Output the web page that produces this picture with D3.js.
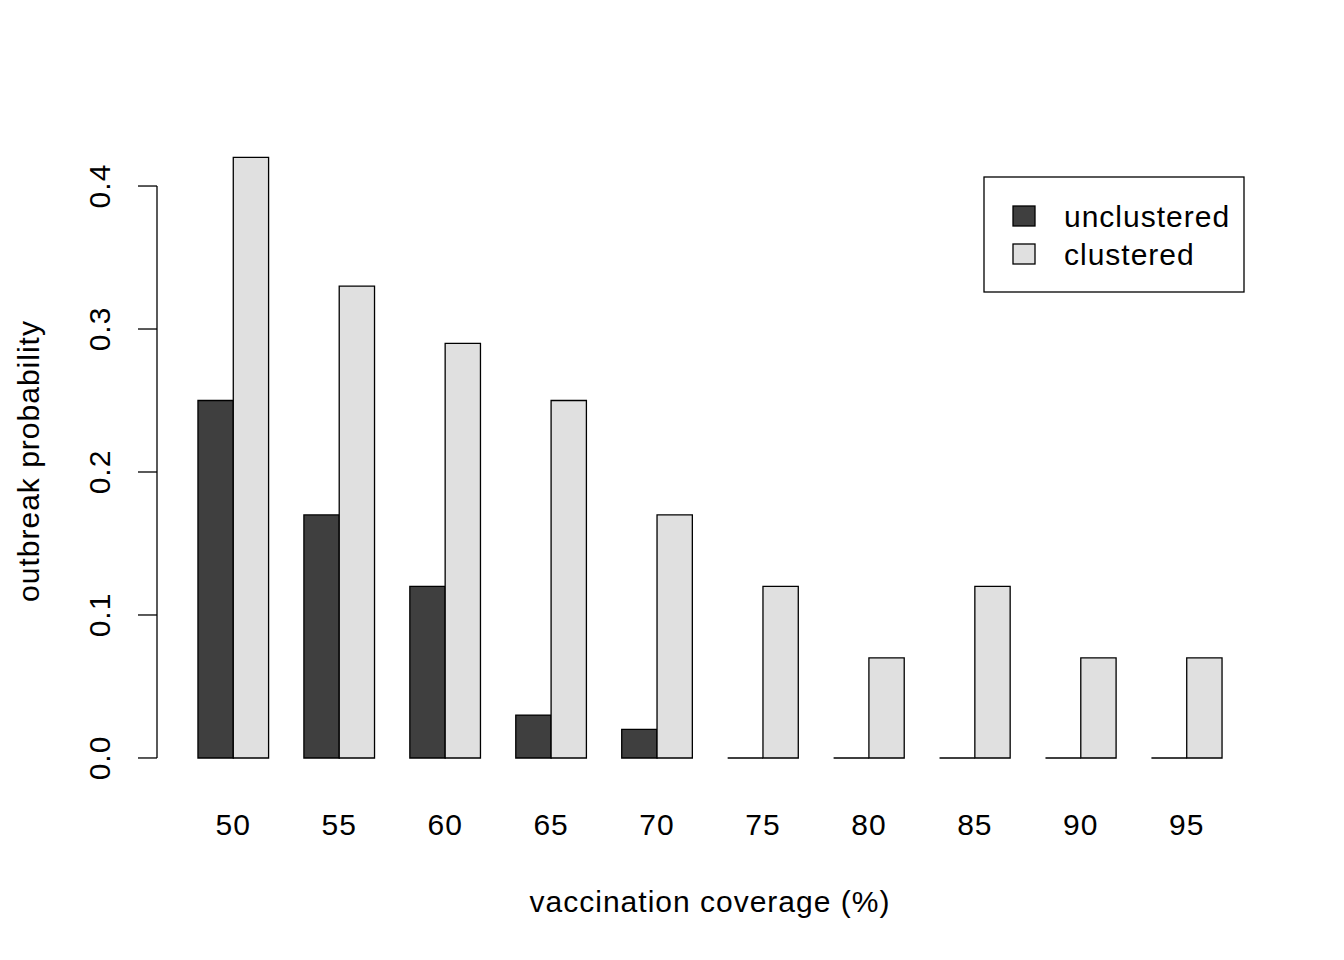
<!DOCTYPE html>
<html><head><meta charset="utf-8">
<script src="https://cdn.jsdelivr.net/npm/d3@7"></script>
<style>body{margin:0;background:#fff}svg{display:block}text{font-family:"Liberation Sans",Arial,sans-serif;fill:#000;letter-spacing:1px}</style>
</head><body><svg id="c" width="1344" height="960"></svg>
<script>
const categories = ["50","55","60","65","70","75","80","85","90","95"];
const seriesNames = ["unclustered","clustered"];
const unclustered = [0.25,0.17,0.12,0.03,0.02,0,0,0,0,0];
const clustered = [0.42,0.33,0.29,0.25,0.17,0.12,0.07,0.12,0.07,0.07];
const yTicks = [0,0.1,0.2,0.3,0.4];
const colors = ["#3f3f3f","#e0e0e0"];

const svg = d3.select("#c");
const fs = 30;
const x = d3.scaleLinear().domain([-0.16,31.16]).range([157,1263]);
const y = d3.scaleLinear().domain([-0.0168,0.4368]).range([782,133.4]);

const series=[unclustered,clustered];
categories.forEach((c,i)=>{
  series.forEach((s,j)=>{
    const l = 1+i*3+j;
    const x0=x(l), x1=x(l+1), yt=y(s[i]), yb=y(0);
    svg.append("path").attr("d",`M${x0},${yb}L${x0},${yt}L${x1},${yt}L${x1},${yb}Z`)
      .attr("fill",colors[j]).attr("stroke","#000").attr("stroke-width",1.3);
  });
  svg.append("text").attr("x",x(1+i*3+1)).attr("y",824).attr("dy","0.35em")
    .attr("text-anchor","middle").attr("font-size",fs).text(c);
});

const ya = svg.append("g");
ya.append("line").attr("x1",157).attr("x2",157).attr("y1",y(0)).attr("y2",y(0.4)).attr("stroke","#000").attr("stroke-width",1.3);
yTicks.forEach(t=>{
  ya.append("line").attr("x1",138).attr("x2",157).attr("y1",y(t)).attr("y2",y(t)).attr("stroke","#000").attr("stroke-width",1.3);
  ya.append("text").attr("transform",`translate(99,${y(t)}) rotate(-90)`).attr("dy","0.35em")
    .attr("text-anchor","middle").attr("font-size",fs).text(t.toFixed(1));
});

svg.append("text").attr("x",710).attr("y",901).attr("dy","0.35em").attr("text-anchor","middle").attr("font-size",fs).text("vaccination coverage (%)");
svg.append("text").attr("transform","translate(28,461) rotate(-90)").attr("dy","0.35em").attr("text-anchor","middle").attr("font-size",fs).text("outbreak probability");

const lg = svg.append("g");
lg.append("rect").attr("x",984).attr("y",177).attr("width",260).attr("height",115).attr("fill","none").attr("stroke","#000").attr("stroke-width",1.3);
seriesNames.forEach((n,j)=>{
  const cy = 216+j*38;
  lg.append("rect").attr("x",1013).attr("y",cy-10).attr("width",22).attr("height",20).attr("fill",colors[j]).attr("stroke","#000").attr("stroke-width",1.3);
  lg.append("text").attr("x",1064).attr("y",cy).attr("dy","0.35em").attr("font-size",fs).text(n);
});
</script></body></html>
